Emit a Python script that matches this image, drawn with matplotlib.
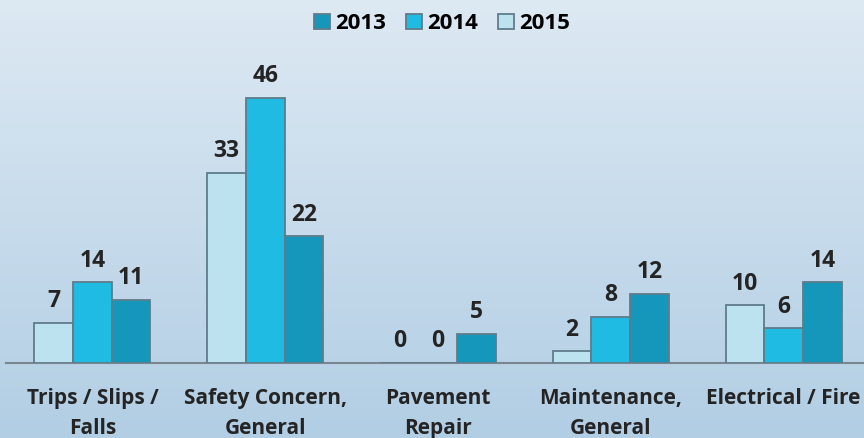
import matplotlib.pyplot as plt
import numpy as np
from matplotlib.colors import LinearSegmentedColormap

categories = ['Trips / Slips /\nFalls', 'Safety Concern,\nGeneral', 'Pavement\nRepair',
              'Maintenance,\nGeneral', 'Electrical / Fire']
# bar order left to right within a group: light, bright, dark
v2015 = [7, 33, 0, 2, 10]
v2014 = [14, 46, 0, 8, 6]
v2013 = [11, 22, 5, 12, 14]

plt.rcParams['font.family'] = ['Open Sans', 'DejaVu Sans']

fig = plt.figure(figsize=(8.64, 4.38), dpi=100)

# background gradient
bg = fig.add_axes([0, 0, 1, 1])
grad = np.linspace(0, 1, 256).reshape(-1, 1)
cm = LinearSegmentedColormap.from_list('bg', ['#dde9f3', '#b2cee4'])
bg.imshow(grad, aspect='auto', cmap=cm, extent=[0, 1, 0, 1])
bg.axis('off')

ax = fig.add_axes([6/864, 75/438, 1.0, 363/438])
ax.patch.set_alpha(0)
x = np.arange(len(categories))
w = 0.224
txt = '#242424'

series = [(v2015, -w, '#bde2ef', '2015'), (v2014, 0, '#1fbbe3', '2014'), (v2013, w, '#1597bb', '2013')]
handles = {}
for vals, off, col, name in series:
    bars = ax.bar(x + off, vals, w, color=col, edgecolor='#5f7c8a', linewidth=1.3, zorder=3)
    handles[name] = bars
    for xi, v in zip(x + off, vals):
        ax.annotate(str(v), (xi, v), xytext=(0, 7), textcoords='offset points',
                    ha='center', va='bottom', fontsize=16.5, fontweight='bold', color=txt)

ax.set_xlim(-0.5, 4.5)
ax.set_ylim(0, 63)
for s in ['top', 'right', 'left']:
    ax.spines[s].set_visible(False)
ax.spines['bottom'].set_color('#7a8690')
ax.spines['bottom'].set_linewidth(1.5)
ax.set_yticks([])
ax.set_xticks(x)
ax.set_xticklabels(categories, fontsize=15, fontweight='bold', color=txt, linespacing=1.55)
ax.tick_params(axis='x', length=0, pad=18)

fig.legend([handles['2013'], handles['2014'], handles['2015']], ['2013', '2014', '2015'],
           loc='upper center', bbox_to_anchor=(0.512, 1.015), ncol=3, frameon=False,
           prop={'size': 16, 'weight': 'bold'}, handlelength=0.7, handleheight=0.7,
           handletextpad=0.25, columnspacing=0.9)

fig.savefig('out.png', dpi=100)
